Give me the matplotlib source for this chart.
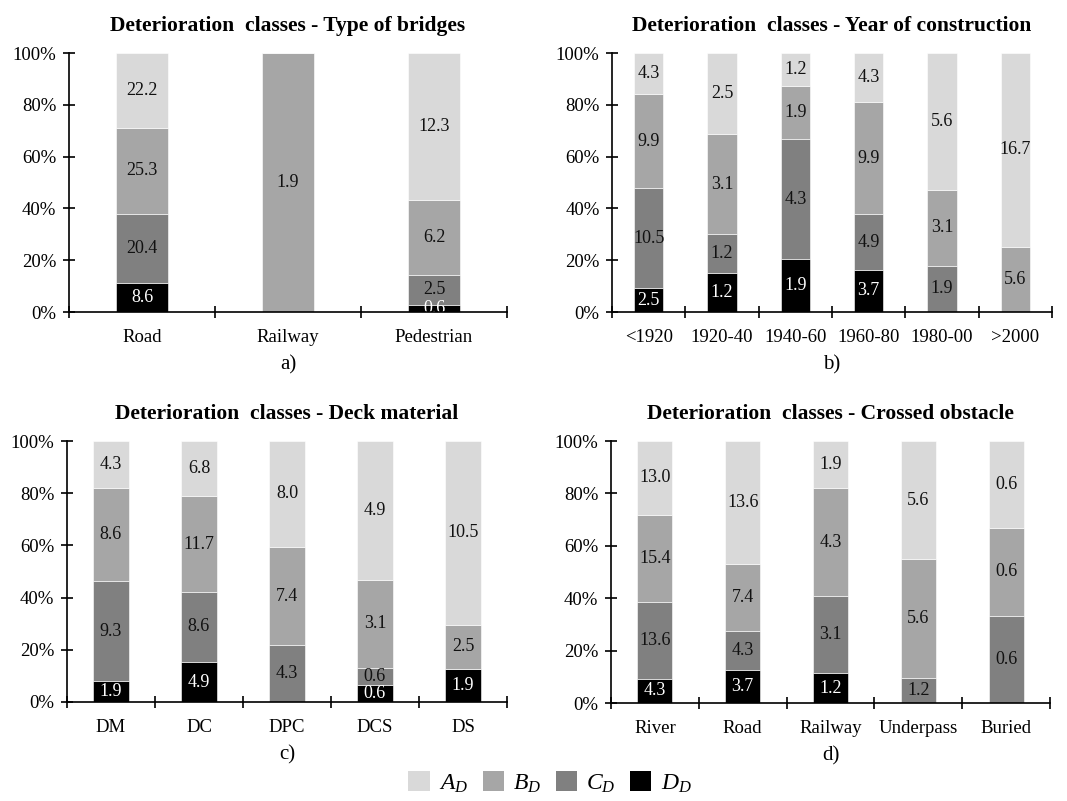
import numpy as np
import matplotlib
matplotlib.use("Agg")
import matplotlib.pyplot as plt
from matplotlib.patches import Patch

plt.rcParams["font.family"] = ["Liberation Serif", "DejaVu Serif"]
plt.rcParams["mathtext.fontset"] = "custom"
plt.rcParams["mathtext.rm"] = "Liberation Serif"
plt.rcParams["mathtext.it"] = "Liberation Serif:italic"

# class shares (% of sample), order of stacking: D, C, B, A
type_cats = ["Road", "Railway", "Pedestrian"]
type_D = [8.6, 0, 0.6]
type_C = [20.4, 0, 2.5]
type_B = [25.3, 1.9, 6.2]
type_A = [22.2, 0, 12.3]

year_cats = ["<1920", "1920-40", "1940-60", "1960-80", "1980-00", ">2000"]
year_D = [2.5, 1.2, 1.9, 3.7, 0, 0]
year_C = [10.5, 1.2, 4.3, 4.9, 1.9, 0]
year_B = [9.9, 3.1, 1.9, 9.9, 3.1, 5.6]
year_A = [4.3, 2.5, 1.2, 4.3, 5.6, 16.7]

deck_cats = ["DM", "DC", "DPC", "DCS", "DS"]
deck_D = [1.9, 4.9, 0, 0.6, 1.9]
deck_C = [9.3, 8.6, 4.3, 0.6, 0]
deck_B = [8.6, 11.7, 7.4, 3.1, 2.5]
deck_A = [4.3, 6.8, 8.0, 4.9, 10.5]

obst_cats = ["River", "Road", "Railway", "Underpass", "Buried"]
obst_D = [4.3, 3.7, 1.2, 0, 0]
obst_C = [13.6, 4.3, 3.1, 1.2, 0.6]
obst_B = [15.4, 7.4, 4.3, 5.6, 0.6]
obst_A = [13.0, 13.6, 1.9, 5.6, 0.6]

class_names = ["$A_D$", "$B_D$", "$C_D$", "$D_D$"]
colors = {"A": "#d9d9d9", "B": "#a6a6a6", "C": "#808080", "D": "#000000"}

W, H = 1067, 801
fig = plt.figure(figsize=(W / 100, H / 100), dpi=100)


def px_axes(x0, x1, y0, y1):
    return fig.add_axes([x0 / W, 1 - y1 / H, (x1 - x0) / W, (y1 - y0) / H])


def stacked(ax, cats, D, C, B, A, width, title, tag):
    series = [("D", np.array(D)), ("C", np.array(C)),
              ("B", np.array(B)), ("A", np.array(A))]
    total = sum(s for _, s in series)
    x = np.arange(len(cats))
    bottom = np.zeros(len(cats))
    for key, vals in series:
        share = vals / total * 100
        ax.bar(x, share, width, bottom=bottom, color=colors[key],
               edgecolor="white", linewidth=0.4, zorder=2)
        for xi, v, s, b in zip(x, vals, share, bottom):
            if v > 0:
                ax.text(xi, b + s / 2, f"{v:.1f}", ha="center", va="center",
                        fontsize=13,
                        color="white" if key == "D" else "#111111",
                        zorder=3)
        bottom += share

    ax.set_xlim(-0.5, len(cats) - 0.5)
    ax.set_ylim(0, 100)
    ax.set_yticks(np.arange(0, 101, 20))
    ax.set_yticklabels([f"{t}%" for t in range(0, 101, 20)])
    ax.set_xticks(x)
    ax.set_xticklabels(cats)
    ax.set_xticks(np.arange(-0.5, len(cats)), minor=True)
    ax.tick_params(axis="x", which="major", length=0, pad=12, labelsize=13.5)
    ax.tick_params(axis="x", which="minor", length=9, width=1.2,
                   direction="inout")
    ax.tick_params(axis="y", length=8, width=1.2, direction="inout",
                   labelsize=13.5, pad=5)
    for side in ["top", "right"]:
        ax.spines[side].set_visible(False)
    for side in ["left", "bottom"]:
        ax.spines[side].set_linewidth(1.2)
        ax.spines[side].set_zorder(4)
    ax.set_title(title, fontsize=15.5, fontweight="bold", pad=16)
    ax.text(0.5, -0.165, tag, transform=ax.transAxes, ha="center",
            va="top", fontsize=15)


ax_a = px_axes(69, 507, 53, 312)
stacked(ax_a, type_cats, type_D, type_C, type_B, type_A, 0.36,
        "Deterioration  classes - Type of bridges", "a)")

ax_b = px_axes(612, 1052, 53, 312)
stacked(ax_b, year_cats, year_D, year_C, year_B, year_A, 0.4,
        "Deterioration  classes - Year of construction", "b)")

ax_c = px_axes(67, 507, 441, 702)
stacked(ax_c, deck_cats, deck_D, deck_C, deck_B, deck_A, 0.4,
        "Deterioration  classes - Deck material", "c)")

ax_d = px_axes(611, 1050, 441, 703)
stacked(ax_d, obst_cats, obst_D, obst_C, obst_B, obst_A, 0.4,
        "Deterioration  classes - Crossed obstacle", "d)")

handles = [Patch(facecolor=colors[k], edgecolor="none")
           for k in ["A", "B", "C", "D"]]
fig.legend(handles, class_names, loc="center",
           bbox_to_anchor=(550 / W, 1 - 783 / H),
           ncol=4, frameon=False, fontsize=17, handlelength=0.9,
           handleheight=0.9, handletextpad=0.4, columnspacing=0.6)

fig.savefig("out.png", dpi=100)
